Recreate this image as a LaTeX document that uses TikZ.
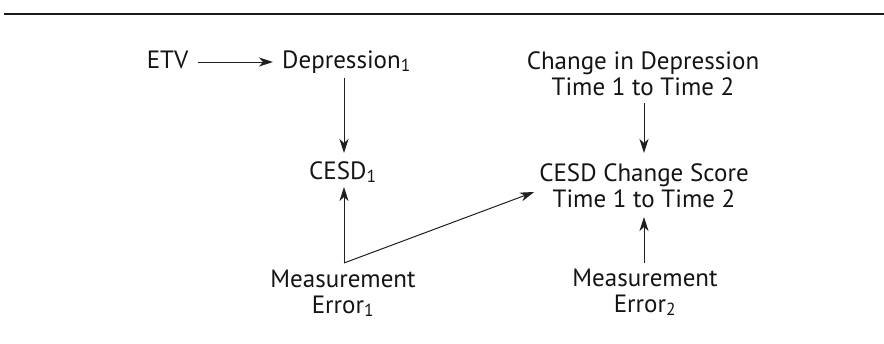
\documentclass[tikz,border=0pt]{standalone}
\usepackage{fontspec}
\setmainfont{PT Sans}
\usetikzlibrary{arrows.meta}
\begin{document}
\begin{tikzpicture}[x=1pt,y=-1pt,
  lbl/.style={inner sep=0pt, font=\fontsize{25}{26}\selectfont, text=black!92, align=center},
  arr/.style={-{Stealth[length=14pt,width=9pt,inset=4pt]}, line width=1pt, draw=black!88},
  ln/.style={line width=1pt, draw=black!88}]
\useasboundingbox (0,0) rectangle (884,343);
\draw[line width=2pt, black!90] (4,14) -- (884,14);
\node[lbl, anchor=base] (etv) at (167.5,68) {ETV};
\node[lbl, anchor=base west] (dep) at (282,68) {Depression\textsubscript{1}};
\node[lbl, anchor=base west] (cesd1) at (309,179) {CESD\textsubscript{1}};
\node[lbl, anchor=base] (chg) at (643,95) {Change in Depression\\Time 1 to Time 2};
\node[lbl, anchor=base] (cesd2) at (644,207) {CESD Change Score\\Time 1 to Time 2};
\node[lbl, anchor=base] (me1) at (343,313) {Measurement\\Error\textsubscript{1}};
\node[lbl, anchor=base] (me2) at (645,312) {Measurement\\Error\textsubscript{2}};
\coordinate (colA) at (344,0);
\coordinate (colB) at (644,0);
\coordinate (corner) at ([yshift=50pt]me1.base -| colA);
\draw[arr] ([xshift=10pt,yshift=6pt]etv.base east) -- ([xshift=-9pt,yshift=6pt]dep.base west);
\draw[arr] ([yshift=-10pt]dep.base -| colA) -- ([yshift=26pt]cesd1.base -| colA);
\draw[arr] (corner) -- ([yshift=-8pt]cesd1.base -| colA);
\draw[arr] (corner) -- ([xshift=-5pt,yshift=15pt]cesd2.base west);
\draw[arr] ([yshift=-8pt]chg.base -| colB) -- ([yshift=54pt]cesd2.base -| colB);
\draw[arr] ([yshift=49pt]me2.base -| colB) -- ([yshift=-10pt]cesd2.base -| colB);
\end{tikzpicture}
\end{document}
